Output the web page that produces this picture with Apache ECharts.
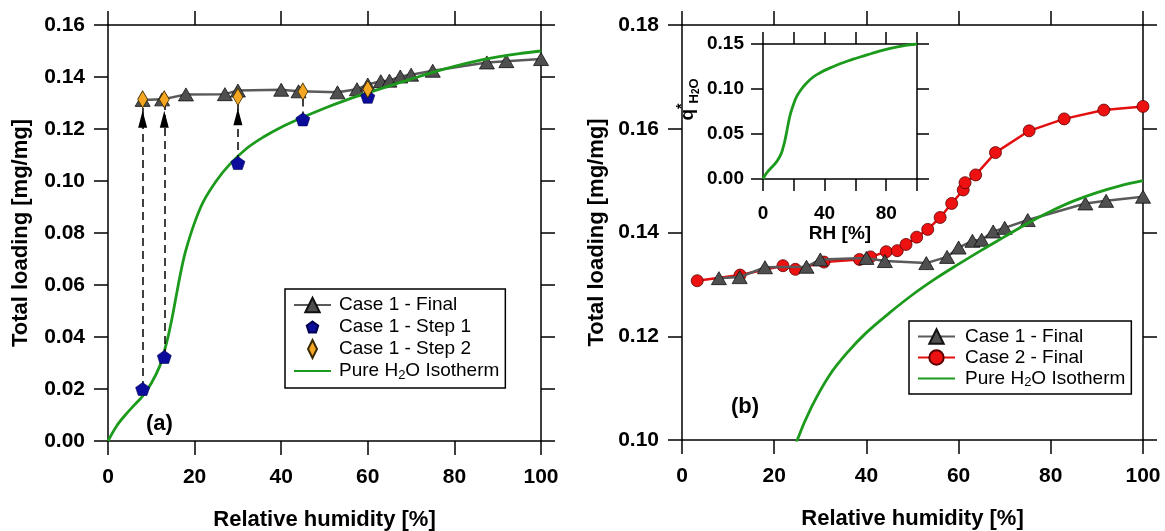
<!DOCTYPE html>
<html>
<head>
<meta charset="utf-8">
<script src="https://cdn.jsdelivr.net/npm/echarts@6/dist/echarts.min.js"></script>
<style>
  html, body { margin: 0; padding: 0; background: #fff; }
  #chart { width: 1165px; height: 531px; }
</style>
</head>
<body>
<div id="chart"></div>
<script>
// ---- data ----
const rhTicks = [0, 20, 40, 60, 80, 100];

// Case 1 - Final (total loading after both steps)
const case1FinalRH = [8, 12.5, 18, 27, 30, 40, 44, 53, 57.5, 60, 63, 65, 67.5, 70, 75, 87.5, 92, 100];
const case1FinalQ  = [0.1312, 0.1314, 0.1333, 0.1334, 0.1348, 0.1351, 0.1345, 0.1341, 0.1353, 0.1371,
                      0.1384, 0.1386, 0.1402, 0.1409, 0.1424, 0.1456, 0.1461, 0.1469];

// Case 1 - Step 1 / Step 2
const case1StepRH = [8, 13, 30, 45, 60];
const case1Step1Q = [0.0200, 0.0323, 0.1069, 0.1237, 0.1324];
const case1Step2Q = [0.1314, 0.1314, 0.1324, 0.1344, 0.1353];

// Case 2 - Final
const case2FinalRH = [3.3, 12.6, 21.9, 24.6, 30.8, 38.5, 40.9, 44.3, 46.7, 48.6, 50.9, 53.3, 56, 58.5,
                      61, 61.4, 63.7, 68, 75.3, 82.9, 91.5, 100];
const case2FinalQ  = [0.1307, 0.1318, 0.1336, 0.1329, 0.1343, 0.1348, 0.1353, 0.1363, 0.1365, 0.1377,
                      0.1391, 0.1406, 0.1429, 0.1456, 0.1482, 0.1496, 0.1511, 0.1554, 0.1596, 0.1619,
                      0.1636, 0.1643];

// Pure H2O isotherm
const isoRH = [0, 2, 4, 6, 8, 10, 12, 13, 14, 15, 16, 17, 18, 20, 22, 25, 28, 32, 36, 40, 45, 50, 55, 60,
               65, 70, 75, 80, 85, 90, 95, 100];
const isoQ  = [0, 0.0058, 0.0100, 0.0137, 0.0173, 0.0222, 0.0290, 0.0345, 0.0410, 0.0490, 0.0580, 0.0665,
               0.0735, 0.0840, 0.0920, 0.1000, 0.1062, 0.1125, 0.1170, 0.1207, 0.1245, 0.1280, 0.1311,
               0.1339, 0.1366, 0.1392, 0.1418, 0.1441, 0.1461, 0.1477, 0.1490, 0.1500];

const leftYTicks  = [0, 0.02, 0.04, 0.06, 0.08, 0.10, 0.12, 0.14, 0.16];
const rightYTicks = [0.10, 0.12, 0.14, 0.16, 0.18];
const insetYTicks = [0, 0.05, 0.10, 0.15];
const insetXLabels = [0, 40, 80];

// ---- helpers ----
const FONT = "'Liberation Sans', Arial, sans-serif";
const zip = (xs, ys) => xs.map((x, i) => [x, ys[i]]);
const PENTAGON = 'path://M50,0 L97.6,34.5 L79.4,90.5 L20.6,90.5 L2.4,34.5 Z';
// same pentagon with empty margin points so the legend icon comes out smaller
const PENTAGON_ICON = 'path://M-28,-30 M128,120 M50,0 L97.6,34.5 L79.4,90.5 L20.6,90.5 L2.4,34.5 Z';
const DIAMOND = 'path://M5,0 L10,10 L5,20 L0,10 Z';

function frameAxes(dim, grid, ticks, opts) {
  // a labelled axis plus its mirrored partner, both with outward ticks
  const base = {
    type: 'value', gridIndex: grid,
    min: ticks[0], max: ticks[ticks.length - 1], interval: ticks[1] - ticks[0],
    axisLine: { show: true, onZero: false, lineStyle: { color: '#000', width: 1.5 } },
    axisTick: { show: true, inside: false, length: opts.tick, lineStyle: { color: '#000', width: 1.5 } },
    splitLine: { show: false }
  };
  const main = Object.assign({}, base, {
    position: dim === 'x' ? 'bottom' : 'left',
    axisLabel: {
      show: true, color: '#000', fontFamily: FONT, fontWeight: 'bold', fontSize: opts.font,
      margin: opts.margin, formatter: opts.fmt
    }
  }, opts.name ? {
    name: opts.name, nameLocation: 'middle', nameGap: opts.nameGap,
    nameRotate: dim === 'y' ? 90 : 0,
    nameTextStyle: Object.assign({ color: '#000', fontFamily: FONT, fontWeight: 'bold', fontSize: opts.nameFont }, opts.nameStyle || {})
  } : {});
  const mirror = Object.assign({}, base, {
    position: dim === 'x' ? 'top' : 'right',
    axisLabel: { show: false }
  });
  return [main, mirror];
}

const fix2 = v => v.toFixed(2);

const xAxes = [].concat(
  frameAxes('x', 0, rhTicks, { tick: 14, font: 21, margin: 26, fmt: v => String(v),
    name: 'Relative humidity [%]', nameGap: 68, nameFont: 22 }),
  frameAxes('x', 1, rhTicks, { tick: 14, font: 21, margin: 26, fmt: v => String(v),
    name: 'Relative humidity [%]', nameGap: 68, nameFont: 22 }),
  frameAxes('x', 2, rhTicks, { tick: 12, font: 19, margin: 25,
    fmt: v => insetXLabels.indexOf(v) >= 0 ? String(v) : '',
    name: 'RH [%]', nameGap: 36, nameFont: 19 })
);

const yAxes = [].concat(
  frameAxes('y', 0, leftYTicks, { tick: 14, font: 21, margin: 23, fmt: fix2,
    name: 'Total loading [mg/mg]', nameGap: 76, nameFont: 22 }),
  frameAxes('y', 1, rightYTicks, { tick: 14, font: 21, margin: 23, fmt: fix2,
    name: 'Total loading [mg/mg]', nameGap: 74, nameFont: 22 }),
  frameAxes('y', 2, insetYTicks, { tick: 12, font: 19, margin: 19, fmt: fix2,
    name: '{q|q}{sup|*}{sub|H}{sub2|2}{sub|O}', nameGap: 62, nameFont: 19,
    nameStyle: {
      padding: [0, 0, 0, 24],
      rich: {
        q:    { fontFamily: FONT, fontWeight: 'bold', fontSize: 19, lineHeight: 26, color: '#000' },
        sup:  { fontFamily: FONT, fontWeight: 'bold', fontSize: 14, lineHeight: 12, verticalAlign: 'top', color: '#000' },
        sub:  { fontFamily: FONT, fontWeight: 'bold', fontSize: 13, lineHeight: 14, verticalAlign: 'bottom', color: '#000' },
        sub2: { fontFamily: FONT, fontWeight: 'bold', fontSize: 10, lineHeight: 9, verticalAlign: 'bottom', color: '#000' }
      }
    } })
);

const legendRich = {
  sub: { fontFamily: FONT, fontSize: 13, lineHeight: 10, verticalAlign: 'bottom', color: '#000' }
};
const legendFmt = name => name.replace('H2O', 'H{sub|2}O');
const isoLegendItem = { name: 'Pure H2O Isotherm', itemStyle: { opacity: 0 } };

const case1Style = {
  symbol: 'triangle', symbolSize: [15, 13],
  itemStyle: { color: '#4f4f4f', borderColor: '#111', borderWidth: 0.8 },
  lineStyle: { color: '#5a5a5a', width: 2.5 }
};
const isoStyle = {
  type: 'line', smooth: 0.35, symbol: 'none', showSymbol: false,
  itemStyle: { color: '#1c9a1c' },
  lineStyle: { color: '#1c9a1c', width: 2.8 }
};

// arrows from step 1 to step 2 (heads only where the gap leaves room)
const arrowLines = case1StepRH.map((r, i) => ({ coords: [[r, case1Step1Q[i]], [r, case1Step2Q[i]]] }));
const arrowHeads = case1StepRH
  .map((r, i) => [r, case1Step2Q[i], case1Step2Q[i] - case1Step1Q[i]])
  .filter(d => d[2] > 0.02)
  .map(d => [d[0], d[1]]);

const legendBase = {
  orient: 'vertical', selectedMode: false, itemGap: 0, itemWidth: 37, itemHeight: 18,
  borderColor: '#000', borderWidth: 1.5, borderRadius: 0, backgroundColor: '#fff',
  formatter: legendFmt
};

const gridBase = { containLabel: false, outerBoundsMode: 'none' };

const option = {
  animation: false,
  backgroundColor: '#fff',
  grid: [
    Object.assign({ left: 108, top: 25, width: 433, height: 416 }, gridBase),
    Object.assign({ left: 682, top: 25, width: 461, height: 415 }, gridBase),
    Object.assign({ left: 763, top: 44, width: 154, height: 135 }, gridBase)
  ],
  xAxis: xAxes,
  yAxis: yAxes,
  title: [
    { text: '(a)', left: 141, top: 408, textStyle: { fontFamily: FONT, fontWeight: 'bold', fontSize: 22, color: '#000' } },
    { text: '(b)', left: 726, top: 391, textStyle: { fontFamily: FONT, fontWeight: 'bold', fontSize: 22, color: '#000' } }
  ],
  legend: [
    Object.assign({}, legendBase, {
      left: 285, top: 289, padding: [5, 6, 6, 8],
      data: ['Case 1 - Final', { name: 'Case 1 - Step 1', icon: PENTAGON_ICON }, 'Case 1 - Step 2', isoLegendItem],
      textStyle: { fontFamily: FONT, fontSize: 19, color: '#000', lineHeight: 22, padding: [0, 0, 0, 3], rich: legendRich }
    }),
    Object.assign({}, legendBase, {
      left: 909, top: 321, padding: [5, 6, 5, 8],
      data: ['Case 1 - Final', 'Case 2 - Final', isoLegendItem],
      textStyle: { fontFamily: FONT, fontSize: 19, color: '#000', lineHeight: 21, padding: [0, 0, 0, 5], rich: legendRich }
    })
  ],
  series: [
    // ---- panel (a) ----
    Object.assign({
      name: 'Case 1 - Final', type: 'line', xAxisIndex: 0, yAxisIndex: 0, z: 2,
      data: zip(case1FinalRH, case1FinalQ)
    }, case1Style),
    Object.assign({
      name: 'Pure H2O Isotherm', xAxisIndex: 0, yAxisIndex: 0, z: 3,
      data: zip(isoRH, isoQ)
    }, isoStyle),
    {
      name: 'step arrows', type: 'lines', coordinateSystem: 'cartesian2d', xAxisIndex: 0, yAxisIndex: 0, z: 4,
      symbol: 'none', lineStyle: { color: '#000', width: 1.5, type: [8, 5], opacity: 1 },
      data: arrowLines
    },
    {
      name: 'Case 1 - Step 1', type: 'scatter', xAxisIndex: 0, yAxisIndex: 0, z: 5,
      symbol: PENTAGON, symbolSize: [14, 13],
      itemStyle: { color: '#0b0b9c', borderColor: '#000050', borderWidth: 0.6, opacity: 1 },
      data: zip(case1StepRH, case1Step1Q)
    },
    {
      name: 'arrow heads', type: 'scatter', xAxisIndex: 0, yAxisIndex: 0, z: 5,
      symbol: 'triangle', symbolSize: [9, 17], symbolOffset: [0, 20],
      itemStyle: { color: '#000', opacity: 1 },
      data: arrowHeads
    },
    {
      name: 'Case 1 - Step 2', type: 'scatter', xAxisIndex: 0, yAxisIndex: 0, z: 6,
      symbol: DIAMOND, symbolSize: [10, 17],
      itemStyle: { color: '#f5a623', borderColor: '#3a2a00', borderWidth: 0.8, opacity: 1 },
      data: zip(case1StepRH, case1Step2Q)
    },

    // ---- panel (b) ----
    {
      name: 'Case 2 - Final', type: 'line', xAxisIndex: 2, yAxisIndex: 2, z: 2,
      symbol: 'circle', symbolSize: 12,
      itemStyle: { color: '#ee1111', borderColor: '#5a0000', borderWidth: 0.8 },
      lineStyle: { color: '#e41010', width: 2.5 },
      data: zip(case2FinalRH, case2FinalQ)
    },
    Object.assign({
      name: 'Case 1 - Final', type: 'line', xAxisIndex: 2, yAxisIndex: 2, z: 3,
      data: zip(case1FinalRH, case1FinalQ)
    }, case1Style),
    Object.assign({
      name: 'Pure H2O Isotherm', xAxisIndex: 2, yAxisIndex: 2, z: 4, clip: true,
      data: zip(isoRH, isoQ)
    }, isoStyle),

    // ---- inset ----
    Object.assign({
      name: 'inset isotherm', xAxisIndex: 4, yAxisIndex: 4, z: 4,
      data: zip(isoRH, isoQ)
    }, isoStyle)
  ]
};

const chart = echarts.init(document.getElementById('chart'), null, { renderer: 'canvas' });
chart.setOption(option);
</script>
</body>
</html>
